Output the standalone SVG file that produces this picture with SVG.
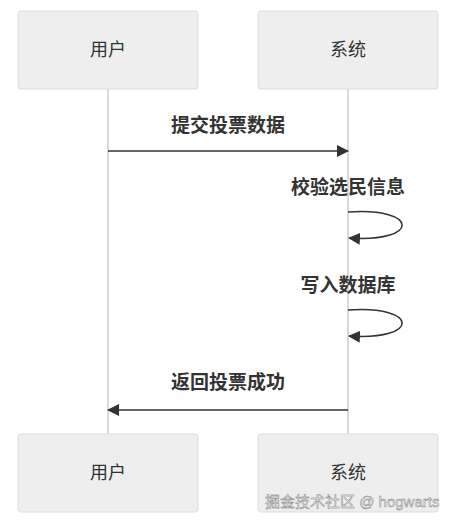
<svg xmlns="http://www.w3.org/2000/svg" width="456" height="525" viewBox="0 0 456 525">
<style>
.actor rect{fill:#eeeeee;stroke:#dddddd;stroke-width:1}
.actor text{font-family:"Liberation Sans","Noto Sans CJK SC",sans-serif;font-size:18px;fill:#333;text-anchor:middle;dominant-baseline:central}
.life{stroke:#cccccc;stroke-width:1.5;fill:none}
.msg{stroke:#333;stroke-width:1.5;fill:none}
.lbl{font-family:"Liberation Sans","Noto Sans CJK SC",sans-serif;font-size:19px;font-weight:bold;fill:#333;text-anchor:middle}
.wm{font-family:"Liberation Sans","Noto Sans CJK SC",sans-serif;font-size:15px;fill:#e8e8e8;stroke:#777;stroke-width:0.4}
</style>
<defs>
<marker id="ah" viewBox="0 0 12 12" refX="11" refY="6" markerWidth="12" markerHeight="12" markerUnits="userSpaceOnUse" orient="auto">
<path d="M0,0 L12,6 L0,12 Z" fill="#333"/>
</marker>
</defs>
<g id="lifelines">
<line class="life" x1="108" y1="89" x2="108" y2="434"/>
<line class="life" x1="348" y1="89" x2="348" y2="434"/>
</g>
<g id="actor-user-top" class="actor"><rect x="18" y="11" width="180" height="78" rx="3"/><text x="108" y="50">用户</text></g>
<g id="actor-system-top" class="actor"><rect x="258" y="11" width="180" height="78" rx="3"/><text x="348" y="50">系统</text></g>
<g id="actor-user-bottom" class="actor"><rect x="18" y="434" width="180" height="78" rx="3"/><text x="108" y="473">用户</text></g>
<g id="actor-system-bottom" class="actor"><rect x="258" y="434" width="180" height="78" rx="3"/><text x="348" y="473">系统</text></g>
<g id="connectors">
<line class="msg" x1="108" y1="151" x2="348" y2="151" marker-end="url(#ah)"/>
<path class="msg" d="M348,212 C420,207 420,243 349,238" marker-end="url(#ah)"/>
<path class="msg" d="M348,310 C420,305 420,341 349,336" marker-end="url(#ah)"/>
<line class="msg" x1="348" y1="410" x2="108" y2="410" marker-end="url(#ah)"/>
</g>
<g id="labels">
<text class="lbl" x="228" y="132">提交投票数据</text>
<text class="lbl" x="348" y="194">校验选民信息</text>
<text class="lbl" x="348" y="292">写入数据库</text>
<text class="lbl" x="228" y="389">返回投票成功</text>
</g>
<text class="wm" x="265" y="507">掘金技术社区 @ hogwarts</text>
</svg>
